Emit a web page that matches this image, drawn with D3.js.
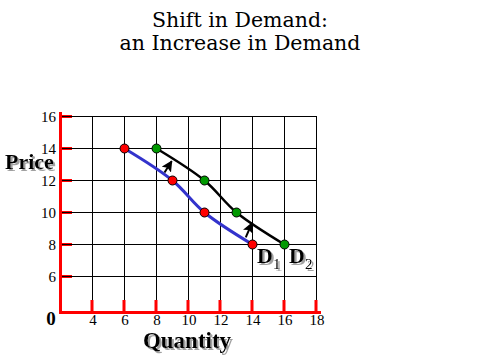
<!DOCTYPE html>
<html><head><meta charset="utf-8">
<script src="https://cdn.jsdelivr.net/npm/d3@7"></script>
<style>
body{margin:0;background:#fff;}
svg{display:block;}
</style></head>
<body>
<svg id="chart" width="480" height="360"></svg>
<script>
const titleLines = ["Shift in Demand:", "an Increase in Demand"];
const xTicks = [4, 6, 8, 10, 12, 14, 16, 18];
const yTicks = [6, 8, 10, 12, 14, 16];
const d1Quantity = [6, 9, 11, 14];
const d1Price = [14, 12, 10, 8];
const d2Quantity = [8, 11, 13, 16];
const d2Price = [14, 12, 10, 8];
const arrowFrom = [[8.5, 12.5], [13.58, 8.45]];
const arrowTo = [[8.95, 13.2], [13.97, 9.35]];

const svg = d3.select("#chart");
const x = d3.scaleLinear().domain([2, 18]).range([60.5, 316.5]);
const y = d3.scaleLinear().domain([4, 16]).range([308.5, 116.5]);

const defs = svg.append("defs");
const f = defs.append("filter").attr("id", "sh").attr("x", "-10%").attr("y", "-10%").attr("width", "130%").attr("height", "140%");
f.append("feOffset").attr("in", "SourceAlpha").attr("dx", 2).attr("dy", 2).attr("result", "off");
f.append("feFlood").attr("flood-color", "#a0a0a0").attr("result", "col");
f.append("feComposite").attr("in", "col").attr("in2", "off").attr("operator", "in").attr("result", "shadow");
const fm = f.append("feMerge");
fm.append("feMergeNode").attr("in", "shadow");
fm.append("feMergeNode").attr("in", "SourceGraphic");

// title
svg.selectAll("text.title").data(titleLines).enter().append("text")
  .attr("class", "title")
  .attr("x", 240).attr("y", (d, i) => 27 + i * 23)
  .attr("text-anchor", "middle")
  .attr("font-family", "DejaVu Serif").attr("font-size", 20.5)
  .text(d => d);

// grid
svg.append("g").selectAll("line").data(xTicks).enter().append("line")
  .attr("x1", d => x(d)).attr("x2", d => x(d))
  .attr("y1", y(16)).attr("y2", 303)
  .attr("stroke", "#000").attr("stroke-width", 1);
svg.append("g").selectAll("line").data(yTicks).enter().append("line")
  .attr("x1", 62).attr("x2", x(18) + 0.5)
  .attr("y1", d => y(d)).attr("y2", d => y(d))
  .attr("stroke", "#000").attr("stroke-width", 1);

// red ticks
svg.append("g").selectAll("rect").data(yTicks).enter().append("rect")
  .attr("x", 62).attr("y", d => y(d) - 1.5).attr("width", 10).attr("height", 3)
  .attr("fill", "#ff0000");
svg.append("g").selectAll("line").data(yTicks).enter().append("line")
  .attr("x1", 62).attr("x2", 72)
  .attr("y1", d => y(d)).attr("y2", d => y(d))
  .attr("stroke", "#000").attr("stroke-width", 1);
svg.append("g").selectAll("rect").data(xTicks).enter().append("rect")
  .attr("x", d => x(d) - 2).attr("y", 300).attr("width", 3).attr("height", 12)
  .attr("fill", "#ff0000");

// red axes
svg.append("rect").attr("x", 59).attr("y", 112).attr("width", 3).attr("height", 202).attr("fill", "#ff0000");
svg.append("rect").attr("x", 59).attr("y", 311).attr("width", 262).attr("height", 3).attr("fill", "#ff0000");

// axis labels via d3 axes
const yAxis = svg.append("g").attr("transform", "translate(59,0)")
  .call(d3.axisLeft(y).tickValues(yTicks).tickSize(0).tickPadding(3));
const xAxis = svg.append("g").attr("transform", "translate(0,312)")
  .call(d3.axisBottom(x).tickValues(xTicks).tickSize(0).tickPadding(2));
[yAxis, xAxis].forEach(g => {
  g.attr("font-family", "Liberation Serif").attr("font-size", 15);
  g.select(".domain").remove();
  g.selectAll("text").attr("fill", "#000");
});
yAxis.selectAll("text").attr("dy", "0.33em");

// origin label
svg.append("text").attr("x", 51).attr("y", 325).attr("text-anchor", "middle")
  .attr("font-family", "Liberation Serif").attr("font-weight", "bold").attr("font-size", 19)
  .text("0");

// shadowed labels
svg.append("text").attr("x", 5).attr("y", 169).attr("filter", "url(#sh)")
  .attr("font-family", "Liberation Serif").attr("font-weight", "bold").attr("font-size", 22)
  .text("Price");
svg.append("text").attr("x", 187).attr("y", 348).attr("text-anchor", "middle").attr("filter", "url(#sh)")
  .attr("font-family", "Liberation Serif").attr("font-weight", "bold").attr("font-size", 23)
  .text("Quantity");

// curves
const line = d3.line().x(d => x(d[0])).y(d => y(d[1])).curve(d3.curveCatmullRom.alpha(0.5));
const d1 = d1Quantity.map((q, i) => [q, d1Price[i]]);
const d2 = d2Quantity.map((q, i) => [q, d2Price[i]]);
svg.append("path").attr("d", line(d2)).attr("fill", "none").attr("stroke", "#000").attr("stroke-width", 2.5);
svg.append("path").attr("d", line(d1)).attr("fill", "none").attr("stroke", "#3333cc").attr("stroke-width", 3);

// arrows
defs.append("marker").attr("id", "ah")
  .attr("viewBox", "0 0 10 10").attr("refX", 9).attr("refY", 5)
  .attr("markerWidth", 11).attr("markerHeight", 11).attr("markerUnits", "userSpaceOnUse")
  .attr("orient", "auto")
  .append("path").attr("d", "M0,0 L10,5 L0,10 L2,5 Z").attr("fill", "#000");
svg.append("g").selectAll("line").data(arrowFrom).enter().append("line")
  .attr("x1", d => x(d[0])).attr("y1", d => y(d[1]))
  .attr("x2", (d, i) => x(arrowTo[i][0])).attr("y2", (d, i) => y(arrowTo[i][1]))
  .attr("stroke", "#000").attr("stroke-width", 2).attr("marker-end", "url(#ah)");

// points
svg.append("g").selectAll("circle").data(d2).enter().append("circle")
  .attr("cx", d => x(d[0])).attr("cy", d => y(d[1])).attr("r", 4.5)
  .attr("fill", "#009900").attr("stroke", "#000").attr("stroke-width", 1);
svg.append("g").selectAll("circle").data(d1).enter().append("circle")
  .attr("cx", d => x(d[0])).attr("cy", d => y(d[1])).attr("r", 4.5)
  .attr("fill", "#ff0000").attr("stroke", "#000").attr("stroke-width", 1);

// D labels
[[257, "1"], [289, "2"]].forEach(([tx, sub]) => {
  const t = svg.append("text").attr("x", tx).attr("y", 263).attr("filter", "url(#sh)")
    .attr("font-family", "Liberation Serif").attr("font-weight", "bold").attr("font-size", 22);
  t.append("tspan").text("D");
  t.append("tspan").attr("dy", 6).attr("font-size", 15).attr("font-weight", "normal").text(sub);
});
</script>
</body></html>
